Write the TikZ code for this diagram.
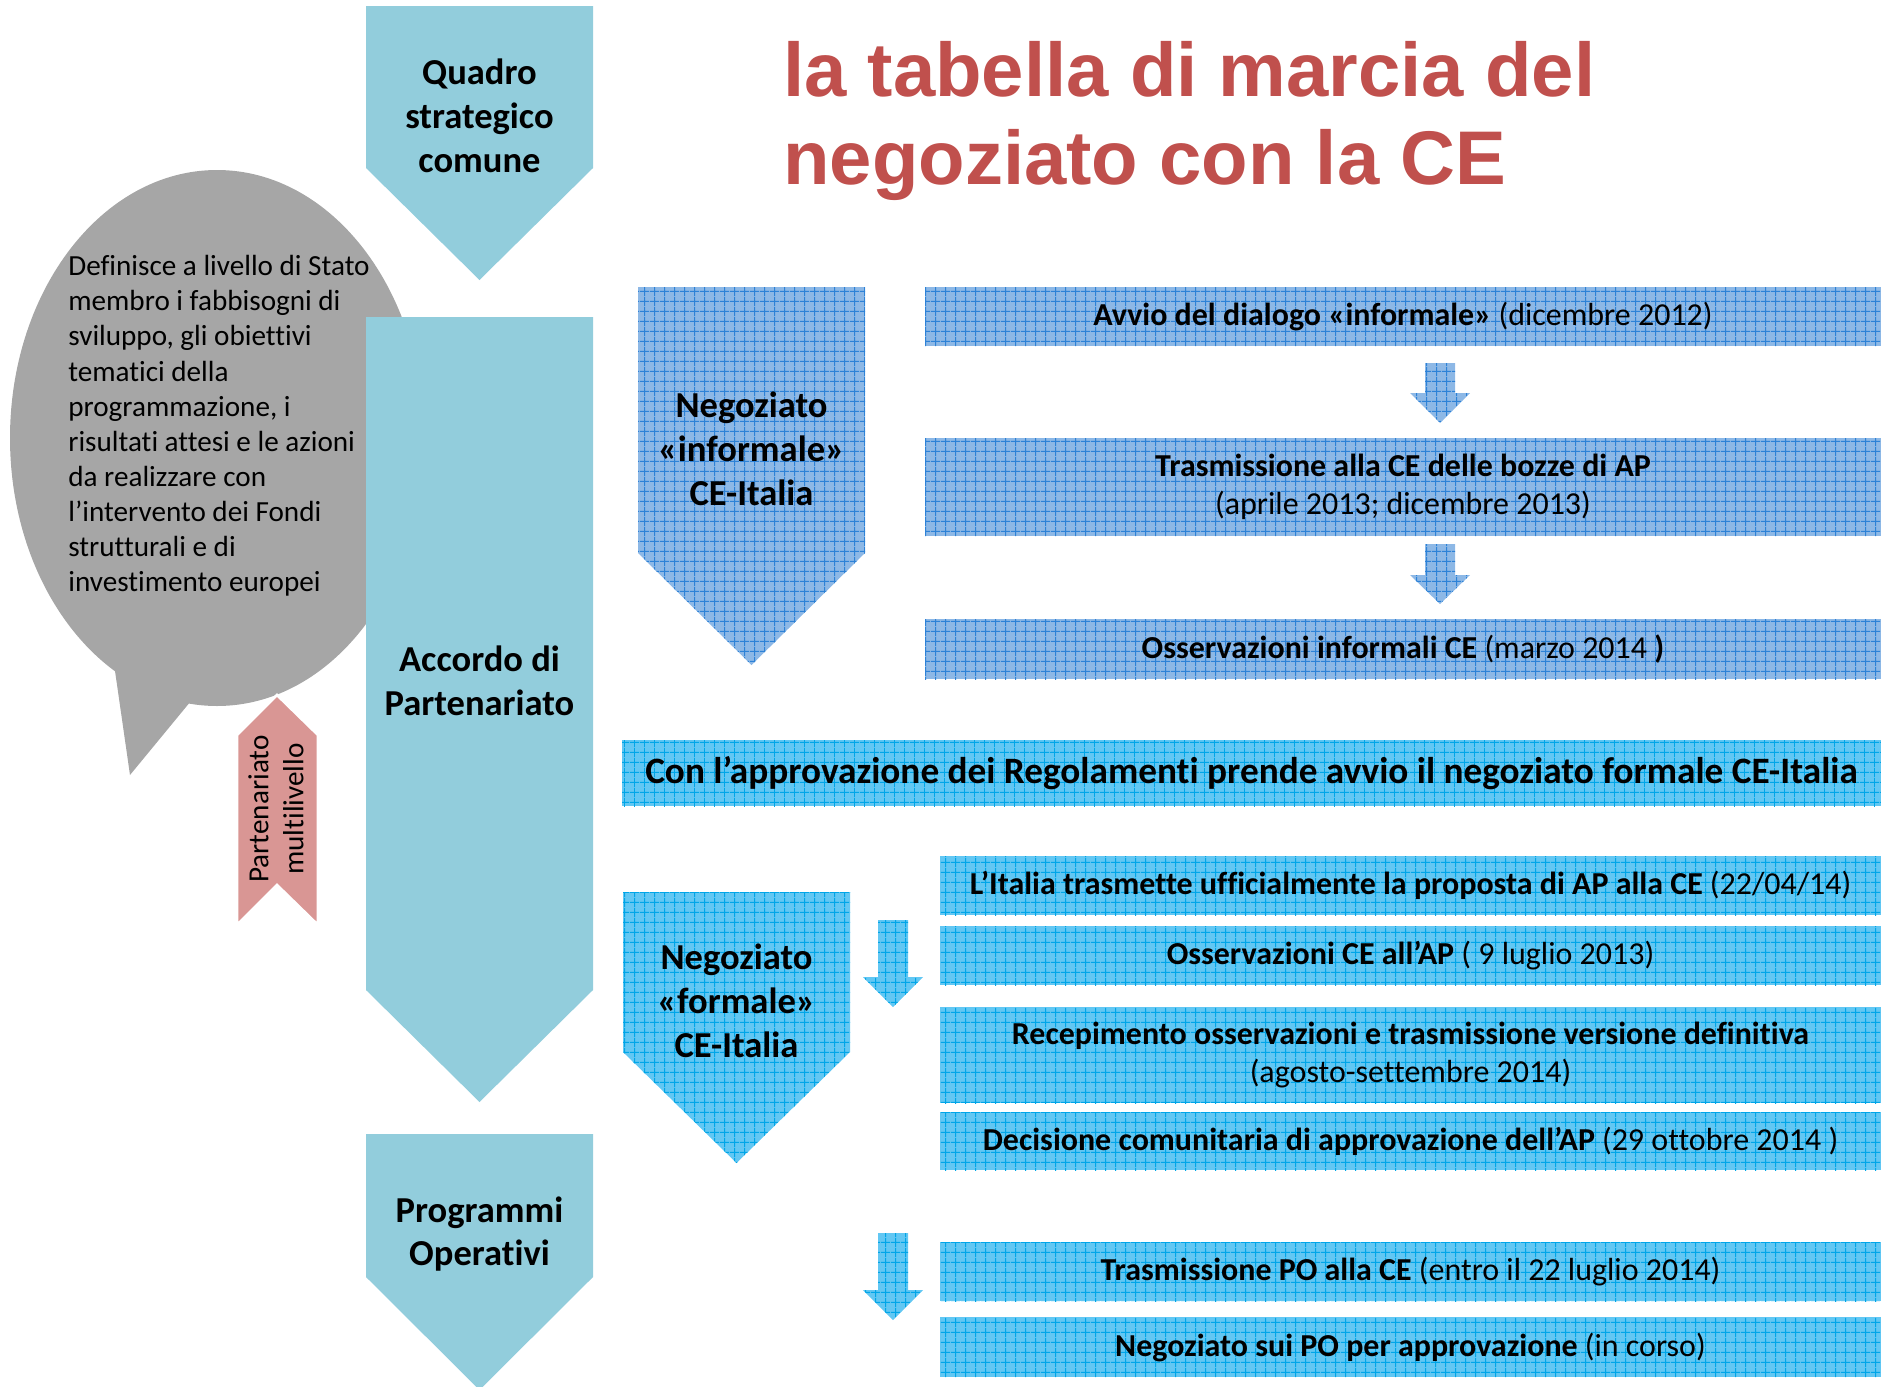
\documentclass[tikz,border=0pt]{standalone}
\usepackage{fontspec}
\setmainfont{Carlito}[Ligatures=NoCommon]
\newfontfamily\titlefont{Liberation Sans}
\usepackage{xcolor}
\usetikzlibrary{patterns.meta}

\definecolor{chevblue}{HTML}{92CDDC}
\definecolor{infobase}{RGB}{141,184,230}
\definecolor{infoline}{RGB}{45,130,215}
\definecolor{formbase}{RGB}{98,199,243}
\definecolor{formline}{RGB}{0,166,232}
\definecolor{bubblegray}{HTML}{A6A6A6}
\definecolor{ribbonpink}{HTML}{D99694}
\definecolor{titlered}{HTML}{C0504D}

\tikzdeclarepattern{
  name=boxgrid,
  type=uncolored,
  bounding box={(0pt,0pt) and (5.7pt,5.7pt)},
  tile size={(5.7pt,5.7pt)},
  code={
    \tikzset{x=1pt,y=1pt}
    \path[draw, line width=0.55pt] (0,2.85) -- (5.7,2.85) (2.85,0) -- (2.85,5.7);
  }
}

\begin{document}
\begin{tikzpicture}[x=0.02cm, y=-0.02cm,
    chevron/.style={fill=chevblue},
    infogrid/.style={fill=infobase, postaction={pattern=boxgrid, pattern color=infoline}},
    formgrid/.style={fill=formbase, postaction={pattern=boxgrid, pattern color=formline}},
    chevtext/.style={font=\fontsize{20.8}{25}\selectfont\bfseries, align=center, inner sep=0pt},
    boxtext/.style={font=\fontsize{18.2}{21.9}\selectfont, align=center, inner sep=0pt},
    infobox/.style={infogrid, boxtext, minimum width=19.12cm},
    formbox/.style={formgrid, boxtext, minimum width=18.82cm}]
    \useasboundingbox (0,0) rectangle (1881,1387);

    % speech bubble
    \fill[bubblegray] (217,438) ellipse [x radius=207, y radius=268];
    \fill[bubblegray] (112,650) -- (130,775) -- (200,690) -- cycle;
    \node[anchor=west, align=left, inner sep=0pt, font=\fontsize{16.6}{20}\selectfont] (stato) at (68,426)
        {Definisce a livello di Stato\\membro i fabbisogni di\\sviluppo, gli obiettivi\\tematici della\\programmazione, i\\risultati attesi e le azioni\\da realizzare con\\l’intervento dei Fondi\\strutturali e di\\investimento europei};

    % ribbon
    \filldraw[fill=ribbonpink, draw=white, line width=1.5pt] (237,735) -- (277,695) -- (318,735) -- (318,925) -- (277,885) -- (237,925) -- cycle;
    \node[rotate=90, align=center, inner sep=0pt, font=\fontsize{16.6}{19.9}\selectfont] (multi) at (276,809) {Partenariato\\multilivello};

    % main chevrons
    \fill[chevron] (366,6) -- (593,6) -- (593,168) -- (479.5,280) -- (366,168) -- cycle;
    \node[chevtext] (quadro) at (479.5,116) {Quadro\\strategico\\comune};
    \fill[chevron] (366,317) -- (593,317) -- (593,990) -- (479.5,1102) -- (366,990) -- cycle;
    \node[chevtext] (accordo) at (479.5,681) {Accordo di\\Partenariato};
    \fill[chevron] (366,1134) -- (593,1134) -- (593,1277) -- (479.5,1390) -- (366,1277) -- cycle;
    \node[chevtext] (programmi) at (479.5,1234) {Programmi\\Operativi};

    % title
    \node[anchor=north west, align=left, inner sep=0pt, text=titlered,
        font=\titlefont\fontsize{43.3}{50}\selectfont\bfseries] (title) at (783,41)
        {la tabella di marcia del\\negoziato con la CE};

    % informal negotiation
    \path[infogrid] (638,287) -- (865,287) -- (865,553) -- (751.5,665) -- (638,553) -- cycle;
    \node[chevtext] (informale) at (751.5,449) {Negoziato\\«informale»\\CE-Italia};
    \node[infobox, minimum height=1.18cm] (avvio) at (1403,316.5)
        {\textbf{Avvio del dialogo «informale»} (dicembre 2012)};
    \node[infobox, minimum height=1.96cm] (bozze) at (1403,487)
        {\textbf{Trasmissione alla CE delle bozze di AP}\\(aprile 2013; dicembre 2013)};
    \node[infobox, minimum height=1.2cm] (osservinf) at (1403,649)
        {\textbf{Osservazioni informali CE} (marzo 2014 \textbf{)}};
    \path[infogrid] (1425,363) -- (1455,363) -- (1455,393) -- (1470,393) -- (1440,423) -- (1410,393) -- (1425,393) -- cycle;
    \path[infogrid] (1425,544) -- (1455,544) -- (1455,575) -- (1470,575) -- (1440,604) -- (1410,575) -- (1425,575) -- cycle;

    % banner
    \node[formgrid, inner sep=0pt, minimum width=25.18cm, minimum height=1.32cm,
        font=\fontsize{21.2}{25}\selectfont\bfseries] (regolamenti) at (1251.5,773)
        {Con l’approvazione dei Regolamenti prende avvio il negoziato formale CE-Italia};

    % formal negotiation
    \path[formgrid] (623,892) -- (850,892) -- (850,1052) -- (736.5,1163) -- (623,1052) -- cycle;
    \node[chevtext] (formale) at (736.5,1001) {Negoziato\\«formale»\\CE-Italia};
    \path[formgrid] (878,920) -- (908,920) -- (908,977) -- (923,977) -- (893,1007) -- (863,977) -- (878,977) -- cycle;
    \path[formgrid] (878,1233) -- (908,1233) -- (908,1290) -- (923,1290) -- (893,1320) -- (863,1290) -- (878,1290) -- cycle;
    \node[formbox, minimum height=1.18cm] (proposta) at (1410.5,885.5)
        {\textbf{L’Italia trasmette ufficialmente la proposta di AP alla CE} (22/04/14)};
    \node[formbox, minimum height=1.18cm] (osservce) at (1410.5,955.5)
        {\textbf{Osservazioni CE all’AP} ( 9 luglio 2013)};
    \node[formbox, minimum height=1.92cm] (recepimento) at (1410.5,1055)
        {\textbf{Recepimento osservazioni e trasmissione versione definitiva}\\(agosto-settembre 2014)};
    \node[formbox, minimum height=1.16cm] (decisione) at (1410.5,1141)
        {\textbf{Decisione comunitaria di approvazione dell’AP} (29 ottobre 2014 )};
    \node[formbox, minimum height=1.18cm] (trasmpo) at (1410.5,1271.5)
        {\textbf{Trasmissione PO alla CE} (entro il 22 luglio 2014)};
    \node[formbox, minimum height=1.2cm] (negpo) at (1410.5,1347)
        {\textbf{Negoziato sui PO per approvazione} (in corso)};
\end{tikzpicture}
\end{document}
